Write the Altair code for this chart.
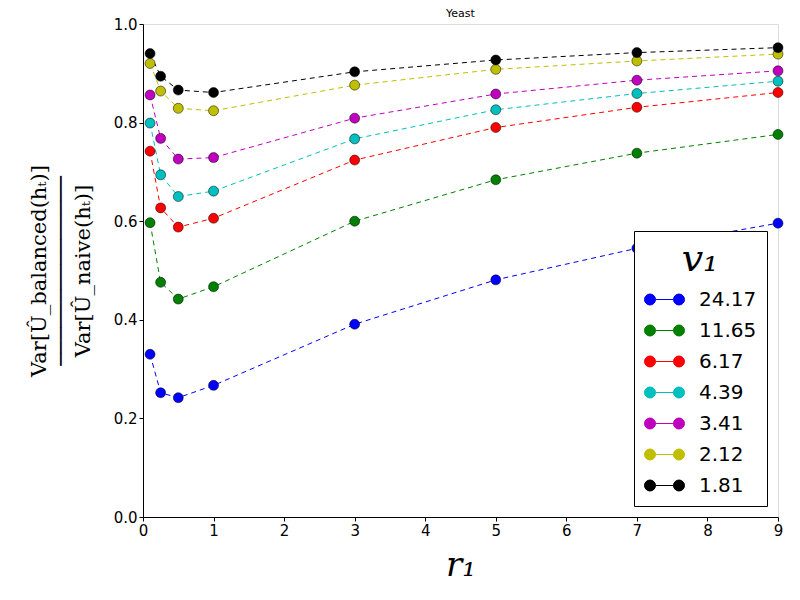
import altair as alt
import pandas as pd

r1 = [0.1, 0.25, 0.5, 1, 3, 5, 7, 9]
series_labels = ["24.17", "11.65", "6.17", "4.39", "3.41", "2.12", "1.81"]
colors = ["#0000ff", "#008000", "#ff0000", "#00bfbf", "#bf00bf", "#bfbf00", "#000000"]

v_24_17 = [0.330, 0.252, 0.242, 0.267, 0.391, 0.481, 0.545, 0.596]
v_11_65 = [0.597, 0.476, 0.442, 0.467, 0.600, 0.684, 0.738, 0.776]
v_6_17 = [0.742, 0.627, 0.588, 0.606, 0.724, 0.790, 0.831, 0.861]
v_4_39 = [0.799, 0.694, 0.650, 0.661, 0.767, 0.826, 0.859, 0.884]
v_3_41 = [0.856, 0.768, 0.726, 0.729, 0.809, 0.858, 0.886, 0.905]
v_2_12 = [0.920, 0.864, 0.829, 0.824, 0.876, 0.908, 0.925, 0.939]
v_1_81 = [0.940, 0.894, 0.866, 0.861, 0.903, 0.927, 0.942, 0.952]

all_series = [v_24_17, v_11_65, v_6_17, v_4_39, v_3_41, v_2_12, v_1_81]

rows = []
for lab, vals in zip(series_labels, all_series):
    for x, y in zip(r1, vals):
        rows.append({"r1": x, "ratio": y, "v1": lab})
df = pd.DataFrame(rows)

color = alt.Color(
    "v1:N",
    scale=alt.Scale(domain=series_labels, range=colors),
    sort=series_labels,
    legend=alt.Legend(
        title="v₁",
        orient="bottom-right",
        offset=11,
        symbolType="M -1 0 A 0.275 0.275 0 1 0 -0.45 0 A 0.275 0.275 0 1 0 -1 0 Z M -0.45 0 L 0.45 0 M 0.45 0 A 0.275 0.275 0 1 0 1 0 A 0.275 0.275 0 1 0 0.45 0 Z",
        symbolSize=1600,
        symbolStrokeWidth=1,
        symbolOpacity=1,
        labelFont="DejaVu Sans",
        labelFontSize=20,
        labelColor="black",
        labelOffset=14,
        titleFont="DejaVu Serif",
        titleFontStyle="italic",
        titleFontWeight="normal",
        titleFontSize=38,
        titleColor="black",
        titleAnchor="middle",
        titlePadding=0,
        strokeColor="black",
        fillColor="white",
        padding=10,
        rowPadding=-8,
    ),
)

x = alt.X(
    "r1:Q",
    scale=alt.Scale(domain=[0, 9], nice=False),
    axis=alt.Axis(
        title="r₁",
        values=list(range(10)),
        format="d",
        labelFlush=False,
        titleFont="DejaVu Serif",
        titleFontStyle="italic",
        titleFontWeight="normal",
        titleFontSize=34,
        titlePadding=10,
        labelFont="DejaVu Sans",
        labelFontSize=15,
        labelColor="black",
        tickColor="black",
        domainColor="black",
        tickSize=4,
        grid=False,
    ),
)

y = alt.Y(
    "ratio:Q",
    scale=alt.Scale(domain=[0, 1], nice=False),
    axis=alt.Axis(
        title=["Var[Û_balanced(hₜ)]", "───────────────", "Var[Û_naive(hₜ)]"],
        values=[0, 0.2, 0.4, 0.6, 0.8, 1.0],
        format=".1f",
        labelFlush=False,
        titleFont="DejaVu Serif",
        titleFontWeight="normal",
        titleFontSize=21,
        titleLineHeight=22,
        titlePadding=20,
        labelFont="DejaVu Sans",
        labelFontSize=15,
        labelColor="black",
        tickColor="black",
        domainColor="black",
        tickSize=4,
        grid=False,
    ),
)

base = alt.Chart(df)

lines = base.mark_line(strokeDash=[5, 4], strokeWidth=1).encode(
    x=x, y=y, color=color, detail="v1:N"
)
points = base.mark_point(
    filled=True, size=100, stroke="black", strokeWidth=0.5, opacity=1
).encode(
    x=x,
    y=y,
    fill=alt.Fill("v1:N", scale=alt.Scale(domain=series_labels, range=colors), legend=None),
    detail="v1:N",
)

chart = (
    alt.layer(lines, points)
    .properties(
        width=635,
        height=493,
        title=alt.TitleParams("Yeast", fontSize=11, font="DejaVu Sans", fontWeight="normal", offset=-2, color="black"),
        autosize=alt.AutoSizeParams(type="none"),
        padding={"left": 135, "top": 16, "right": 14, "bottom": 70},
    )
    .configure_view(stroke="black", strokeWidth=1)
    .configure(background="white")
)

chart.save("out.html", embed_options={"renderer": "svg", "actions": False})
